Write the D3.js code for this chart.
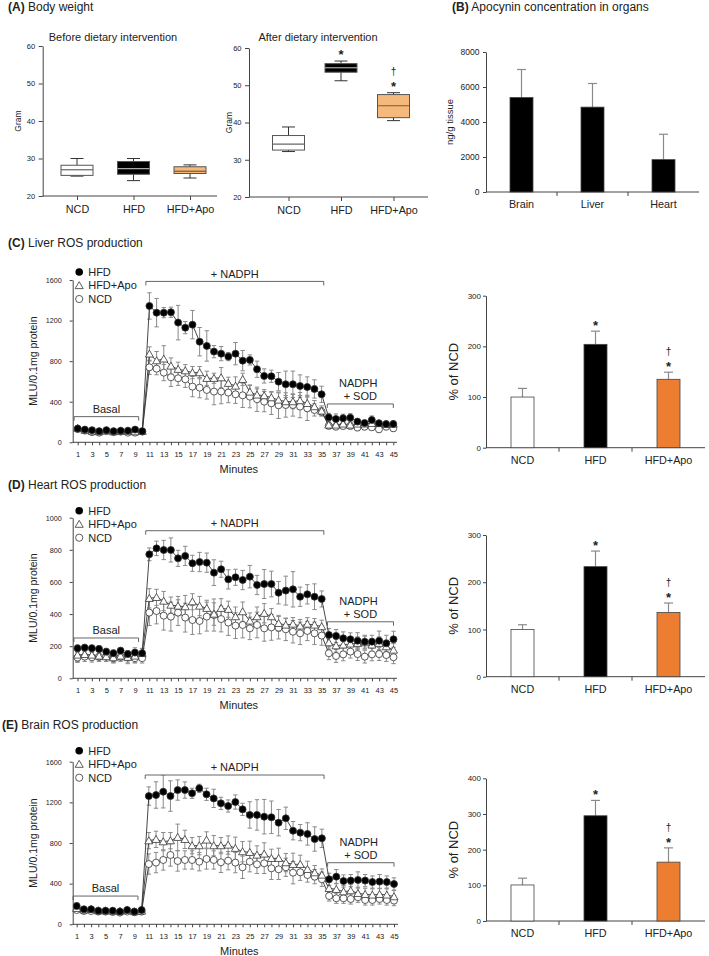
<!DOCTYPE html>
<html><head><meta charset="utf-8">
<script src="https://cdn.jsdelivr.net/npm/d3@7"></script>
<style>body{margin:0;background:#fff;} svg{display:block;}</style>
</head><body><svg id="c" width="709" height="956"></svg>
<script>
// ---------------- DATA ----------------
const groups = ["NCD", "HFD", "HFD+Apo"];
const organs = ["Brain", "Liver", "Heart"];
const minutes = [1,2,3,4,5,6,7,8,9,10,11,12,13,14,15,16,17,18,19,20,21,22,23,24,25,26,27,28,29,30,31,32,33,34,35,36,37,38,39,40,41,42,43,44,45];
const minuteLabels = [1,3,5,7,9,11,13,15,17,19,21,23,25,27,29,31,33,35,37,39,41,43,45];
const weightTicks = [20, 30, 40, 50, 60];

// Body weight box plots (min, q1, median, q3, max)
const beforeMin = [25.3, 24.1, 24.8];
const beforeQ1  = [25.5, 25.8, 26.0];
const beforeMed = [27.0, 27.3, 26.6];
const beforeQ3  = [28.2, 29.2, 27.8];
const beforeMax = [30.0, 30.0, 28.3];
const afterMin = [32.2, 51.2, 40.5];
const afterQ1  = [32.6, 53.5, 41.3];
const afterMed = [34.2, 54.7, 44.5];
const afterQ3  = [36.5, 55.8, 47.5];
const afterMax = [38.8, 56.5, 48.0];
const afterSig = ["", "*", "†*"];

// Apocynin concentration
const apoConc = [5400, 4850, 1850];
const apoConcErr = [1600, 1350, 1450];
const apoTicks = [0, 2000, 4000, 6000, 8000];

// Liver ROS
const liverHFD = [135,125,120,110,120,110,115,115,125,110, 1344,1278,1278,1282,1180,1130,1160,992,950,894,874,845,874,805,812,720,654,651,598,572,572,555,545,526,473, 246,230,237,243,204,190,220,187,180,180];
const liverHFDErr = [25,20,20,20,20,20,20,20,25,20, 130,140,50,50,170,60,140,140,150,60,70,40,110,100,50,80,70,60,90,130,130,110,100,90,80, 40,50,40,40,20,20,40,20,20,20];
const liverApo = [140,120,110,105,115,105,110,110,105,110, 871,805,822,752,720,706,687,687,631,631,637,582,555,621,496,467,460,440,417,401,401,411,384,352,309, 171,171,181,171,181,181,187,187,177,181];
const liverApoErr = [20,20,20,20,20,20,20,20,20,20, 70,90,130,80,70,60,60,60,70,50,100,60,90,60,70,60,60,60,70,60,70,80,80,60,50, 40,30,30,30,30,30,30,30,30,30];
const liverNCD = [130,115,100,95,110,100,105,95,95,105, 739,726,687,641,631,621,549,539,516,500,500,490,473,463,450,424,401,384,365,368,368,352,335,319,302, 164,154,161,161,145,154,148,128,154,138];
const liverNCDErr = [20,20,20,20,20,20,20,20,20,20, 70,60,80,90,70,80,100,100,90,130,120,100,90,120,110,120,100,110,130,120,110,110,120,60,40, 30,30,30,30,30,30,30,30,30,30];
const liverPct = [100, 204, 135];
const liverPctErr = [17, 26, 14];

// Heart ROS
const heartHFD = [187,191,187,183,166,156,172,151,160,156, 772,809,799,799,747,762,716,724,720,658,679,616,629,612,633,581,587,587,533,546,554,508,523,508,494, 270,264,249,243,234,228,228,234,218,243];
const heartHFDErr = [20,20,20,20,20,20,20,20,30,30, 40,45,60,75,50,60,50,60,60,80,50,60,50,60,70,60,90,80,70,90,110,60,60,80,50, 40,40,40,40,50,40,40,60,50,50];
const heartApo = [145,149,145,139,135,129,139,131,139,156, 498,504,481,456,450,446,477,450,436,400,436,430,384,415,357,384,405,384,342,332,338,326,338,332,322, 222,203,208,214,218,222,208,218,197,176];
const heartApoErr = [40,30,30,30,30,30,30,40,40,30, 60,50,60,50,60,70,50,60,50,70,60,50,60,60,50,60,60,50,50,40,40,40,40,40,40, 40,40,40,40,40,40,40,40,40,40];
const heartNCD = [129,135,131,135,135,125,135,131,125,125, 409,419,390,384,409,378,363,357,384,394,369,347,328,332,311,332,311,317,315,305,290,280,295,280,266, 156,139,149,166,151,135,149,151,145,131];
const heartNCDErr = [30,30,30,30,30,30,30,30,30,30, 80,80,90,90,80,90,90,80,90,100,80,80,80,80,70,80,80,80,70,70,70,70,60,70,60, 40,40,40,40,40,40,40,40,40,40];
const heartPct = [100, 233, 136];
const heartPctErr = [10, 33, 20];

// Brain ROS
const brainHFD = [180,148,148,134,134,134,125,141,125,141, 1262,1272,1305,1262,1321,1321,1289,1338,1279,1239,1190,1164,1203,1131,1076,1076,1059,1053,1000,1043,921,902,889,839,846, 443,469,426,430,436,430,416,420,416,397];
const brainHFDErr = [30,20,20,20,20,20,20,20,20,20, 90,130,160,150,100,80,50,40,60,90,60,60,70,60,130,150,170,160,130,110,90,80,110,120,90, 60,70,60,60,80,60,60,70,60,60];
const brainApo = [157,141,148,134,134,131,131,141,125,131, 823,836,813,823,856,836,774,774,830,774,774,780,748,715,708,682,692,649,649,607,590,590,541,508,485, 354,344,321,331,305,295,289,295,289,272];
const brainApoErr = [20,20,20,20,20,20,20,20,20,20, 80,80,90,80,130,90,80,90,80,100,80,90,110,100,110,90,110,90,100,90,110,90,80,70,60, 60,60,60,60,60,60,60,60,60,60];
const brainNCD = [141,131,131,125,125,121,115,125,118,125, 593,607,633,682,623,633,633,616,643,633,610,626,607,561,616,590,600,551,541,561,508,512,485,469,443, 279,256,256,249,266,239,239,249,239,233];
const brainNCDErr = [20,20,20,20,20,20,20,20,20,20, 100,100,100,110,100,90,90,90,100,90,100,90,100,110,100,90,100,110,100,90,110,80,70,70,70, 50,50,50,50,50,50,50,50,50,50];
const brainPct = [101, 295, 165];
const brainPctErr = [19, 43, 40];
const pctSig = ["", "*", "†*"];

// ---------------- DRAWING ----------------
const F = '"Liberation Sans", Arial, Helvetica, sans-serif';
const INK = "#222", AX = "#444", ERR = "#8a8a8a";
const ORANGE = "#ed7d31", LIGHT_ORANGE = "#f5b97b";
const svg = d3.select("#c").style("font-family", F);
const fmt = d3.format("d");

function txt(x, y, s, fs, anchor, bold) {
  return svg.append("text").attr("x", x).attr("y", y).attr("dy", "0.35em")
    .attr("font-size", fs).attr("text-anchor", anchor || "start")
    .attr("font-weight", bold ? "bold" : null).attr("fill", INK).text(s);
}
function vtxt(x, y, s, fs) {
  return svg.append("text").attr("transform", `translate(${x},${y}) rotate(-90)`)
    .attr("dy", "0.35em").attr("font-size", fs).attr("text-anchor", "middle").attr("fill", INK).text(s);
}
function panelTitle(x, y, tag, s) {
  const t = svg.append("text").attr("x", x).attr("y", y).attr("dy", "0.35em").attr("font-size", 12).attr("fill", INK);
  t.append("tspan").attr("font-weight", "bold").text(tag);
  t.append("tspan").text("  " + s);
}
function styleAxis(g, fs) {
  g.selectAll("path.domain").attr("stroke", AX);
  g.selectAll(".tick line").attr("stroke", AX);
  g.selectAll(".tick text").attr("fill", INK).attr("font-size", fs).attr("font-family", F);
}
// significance marks stacked upward from a reference y (top of whisker / error bar)
function sig(x, yRef, s) {
  const chars = s.split("").reverse();
  chars.forEach((c, i) => {
    const yc = yRef - 8.5 - i * 11.5;
    if (c === "*") svg.append("text").attr("x", x).attr("y", yc + 7.4).attr("font-size", 13).attr("text-anchor", "middle").attr("font-weight", "bold").attr("fill", INK).text("*");
    else svg.append("text").attr("x", x).attr("y", yc + 3.2).attr("font-size", 10).attr("text-anchor", "middle").attr("fill", INK).text(c);
  });
}

// ----- Box plots -----
function boxPanel(o) {
  const y = d3.scaleLinear().domain([20, 60]).range([o.y0, o.y1]);
  const x = d3.scalePoint().domain(groups).range([o.c0, o.c2]);
  const ga = svg.append("g").attr("transform", `translate(${o.ax},0)`)
    .call(d3.axisLeft(y).tickValues(weightTicks).tickSize(4).tickSizeOuter(0).tickPadding(3.5));
  styleAxis(ga, 7.5);
  const gx = svg.append("g").attr("transform", `translate(0,${o.y0})`)
    .call(d3.axisBottom(x).tickSize(4).tickSizeOuter(0).tickPadding(5.5));
  gx.select(".domain").remove();
  styleAxis(gx, 10.8);
  svg.append("line").attr("x1", o.ax).attr("x2", o.axEnd).attr("y1", o.y0).attr("y2", o.y0).attr("stroke", AX);
  txt(o.titleX, o.titleY, o.title, 11, "middle");
  vtxt(o.labX, (o.y0 + o.y1) / 2, "Gram", 8.5);
  const fills = ["#fff", "#000", LIGHT_ORANGE];
  const meds = ["#666", "#aaa", "#7a5a3a"];
  const bw = 32, cw = 13;
  groups.forEach((g, i) => {
    const cx = x(g);
    const s = svg.append("g");
    s.append("line").attr("x1", cx).attr("x2", cx).attr("y1", y(o.max[i])).attr("y2", y(o.q3[i])).attr("stroke", "#333");
    s.append("line").attr("x1", cx).attr("x2", cx).attr("y1", y(o.q1[i])).attr("y2", y(o.min[i])).attr("stroke", "#333");
    s.append("line").attr("x1", cx - cw / 2).attr("x2", cx + cw / 2).attr("y1", y(o.max[i])).attr("y2", y(o.max[i])).attr("stroke", "#333");
    s.append("line").attr("x1", cx - cw / 2).attr("x2", cx + cw / 2).attr("y1", y(o.min[i])).attr("y2", y(o.min[i])).attr("stroke", "#333");
    s.append("rect").attr("x", cx - bw / 2).attr("width", bw).attr("y", y(o.q3[i])).attr("height", y(o.q1[i]) - y(o.q3[i]))
      .attr("fill", fills[i]).attr("stroke", "#555").attr("stroke-width", 1);
    s.append("line").attr("x1", cx - bw / 2).attr("x2", cx + bw / 2).attr("y1", y(o.med[i])).attr("y2", y(o.med[i])).attr("stroke", meds[i]).attr("stroke-width", 1.2);
    if (o.sig && o.sig[i]) sig(cx, y(o.max[i]) - 1, o.sig[i]);
  });
}

panelTitle(8, 7, "(A)", "Body weight");
boxPanel({ y0: 196, y1: 46, ax: 42.7, axEnd: 217, c0: 77, c2: 190, titleX: 113, titleY: 37, labX: 18,
  title: "Before dietary intervention",
  min: beforeMin, q1: beforeQ1, med: beforeMed, q3: beforeQ3, max: beforeMax });
boxPanel({ y0: 197, y1: 48, ax: 249, axEnd: 428, c0: 288.5, c2: 393.5, titleX: 318, titleY: 37, labX: 229,
  title: "After dietary intervention",
  min: afterMin, q1: afterQ1, med: afterMed, q3: afterQ3, max: afterMax, sig: afterSig });

// ----- Bar charts -----
function barPanel(o) {
  const x = d3.scaleBand().domain(o.cats).range([o.ax, o.axEnd]);
  const y = d3.scaleLinear().domain([0, o.ymax]).range([o.y0, o.y1]);
  const ga = svg.append("g").attr("transform", `translate(${o.ax},0)`)
    .call(d3.axisLeft(y).tickValues(o.ticks).tickFormat(fmt).tickSize(3).tickSizeOuter(0).tickPadding(o.tickPad));
  styleAxis(ga, o.tickFs);
  svg.append("line").attr("x1", o.ax).attr("x2", o.axEnd).attr("y1", o.y0).attr("y2", o.y0).attr("stroke", AX);
  o.cats.slice(1).forEach(c => {
    svg.append("line").attr("x1", x(c)).attr("x2", x(c)).attr("y1", o.y0).attr("y2", o.y0 + 4).attr("stroke", AX);
  });
  o.cats.forEach(c => txt(x(c) + x.bandwidth() / 2, o.y0 + 12.5, c, 10.8, "middle"));
  vtxt(o.labX, (o.y0 + o.y1) / 2, o.ylab, o.ylabFs);
  const bw = o.bw;
  o.cats.forEach((c, i) => {
    const cx = x(c) + x.bandwidth() / 2;
    const top = y(o.vals[i]), etop = y(o.vals[i] + o.errs[i]);
    svg.append("line").attr("x1", cx).attr("x2", cx).attr("y1", top).attr("y2", etop).attr("stroke", ERR).attr("stroke-width", 1.2);
    svg.append("line").attr("x1", cx - 4.5).attr("x2", cx + 4.5).attr("y1", etop).attr("y2", etop).attr("stroke", ERR).attr("stroke-width", 1.2);
    svg.append("rect").attr("x", cx - bw / 2).attr("width", bw).attr("y", top).attr("height", o.y0 - top)
      .attr("fill", o.fills[i]).attr("stroke", "#444").attr("stroke-width", 0.8);
    if (o.sig && o.sig[i]) sig(cx, etop, o.sig[i]);
  });
}

panelTitle(452, 7, "(B)", "Apocynin concentration in organs");
barPanel({ cats: organs, vals: apoConc, errs: apoConcErr, ymax: 8000, ticks: apoTicks, tickFs: 8.5, tickPad: 3.5,
  ax: 486, axEnd: 699, y0: 192, y1: 52, bw: 23, labX: 450, ylab: "ng/g tissue", ylabFs: 9.5,
  fills: ["#000", "#000", "#000"] });

const pctFills = ["#fff", "#000", ORANGE];
barPanel({ cats: groups, vals: liverPct, errs: liverPctErr, ymax: 300, ticks: [0, 100, 200, 300], tickFs: 8, tickPad: 2,
  ax: 486, axEnd: 705, y0: 447.7, y1: 295.7, bw: 23, labX: 453, ylab: "% of NCD", ylabFs: 13,
  fills: pctFills, sig: pctSig });
barPanel({ cats: groups, vals: heartPct, errs: heartPctErr, ymax: 300, ticks: [0, 100, 200, 300], tickFs: 8, tickPad: 2,
  ax: 486, axEnd: 705, y0: 676.7, y1: 535, bw: 23, labX: 453, ylab: "% of NCD", ylabFs: 13,
  fills: pctFills, sig: pctSig });
barPanel({ cats: groups, vals: brainPct, errs: brainPctErr, ymax: 400, ticks: [0, 100, 200, 300, 400], tickFs: 8, tickPad: 2,
  ax: 486, axEnd: 705, y0: 921, y1: 778.3, bw: 23, labX: 453, ylab: "% of NCD", ylabFs: 13,
  fills: pctFills, sig: pctSig });

// ----- Line charts -----
function linePanel(o) {
  const x = d3.scaleLinear().domain([1, 45]).range([o.x1, o.x45]);
  const y = d3.scaleLinear().domain([0, o.ymax]).range([o.y0, o.yTop]);
  const ga = svg.append("g").attr("transform", `translate(${o.ax},0)`)
    .call(d3.axisLeft(y).tickValues(o.ticks).tickFormat(fmt).tickSize(3).tickSizeOuter(0).tickPadding(8));
  styleAxis(ga, 7.2);
  const gx = svg.append("g").attr("transform", `translate(0,${o.y0})`)
    .call(d3.axisBottom(x).tickValues(minutes).tickFormat(d => minuteLabels.includes(d) ? d : "").tickSize(3).tickPadding(6));
  gx.select(".domain").remove();
  styleAxis(gx, 7.5);
  svg.append("line").attr("x1", o.ax).attr("x2", o.axEnd).attr("y1", o.y0).attr("y2", o.y0).attr("stroke", AX);
  txt((o.ax + o.axEnd) / 2 + 4, o.y0 + 27, "Minutes", 11, "middle");
  vtxt(33, (o.y0 + o.yTop) / 2, "MLU/0.1mg protein", 10.5);

  function bracket(m0, m1, v) {
    const yy = y(v);
    svg.append("path").attr("d", `M${x(m0)},${yy + 4}V${yy}H${x(m1)}V${yy + 4}`)
      .attr("fill", "none").attr("stroke", "#555").attr("stroke-width", 0.9);
    return yy;
  }
  const yb = bracket(0.5, 9.5, o.bBasal);
  txt((x(0.5) + x(9.5)) / 2, yb - 7.5, "Basal", 11, "middle");
  const yn = bracket(10.5, 35.3, o.bNadph);
  txt((x(10.5) + x(35.3)) / 2, yn - 7.5, "+ NADPH", 11, "middle");
  const ys = bracket(35.8, 45, o.bSod);
  txt((x(35.8) + x(45)) / 2 - 2, ys - 21, "NADPH", 11, "middle");
  txt((x(35.8) + x(45)) / 2, ys - 7.5, "+ SOD", 11, "middle");

  const series = [
    { v: o.ncd, e: o.ncdE, type: "circle", fill: "#fff" },
    { v: o.apo, e: o.apoE, type: "tri", fill: "#fff" },
    { v: o.hfd, e: o.hfdE, type: "circle", fill: "#000" }
  ];
  series.forEach(s => {
    const g = svg.append("g").attr("stroke", ERR).attr("stroke-width", 1);
    minutes.forEach((m, i) => {
      const cx = x(m), a = y(s.v[i] + s.e[i]), b = y(Math.max(0, s.v[i] - s.e[i]));
      g.append("line").attr("x1", cx).attr("x2", cx).attr("y1", a).attr("y2", b);
      g.append("line").attr("x1", cx - 2.2).attr("x2", cx + 2.2).attr("y1", a).attr("y2", a);
      g.append("line").attr("x1", cx - 2.2).attr("x2", cx + 2.2).attr("y1", b).attr("y2", b);
    });
  });
  const line = d3.line().x((d, i) => x(minutes[i])).y(d => y(d));
  series.forEach(s => {
    svg.append("path").attr("d", line(s.v)).attr("fill", "none").attr("stroke", "#333").attr("stroke-width", 0.9);
  });
  const tri = d3.symbol().type(d3.symbolTriangle).size(28);
  series.forEach(s => {
    const g = svg.append("g");
    minutes.forEach((m, i) => {
      if (s.type === "circle") g.append("circle").attr("cx", x(m)).attr("cy", y(s.v[i])).attr("r", 3.5)
        .attr("fill", s.fill).attr("stroke", "#333").attr("stroke-width", 0.8);
      else g.append("path").attr("d", tri).attr("transform", `translate(${x(m)},${y(s.v[i]) + 0.8})`)
        .attr("fill", s.fill).attr("stroke", "#333").attr("stroke-width", 0.8);
    });
  });
  // legend
  const lx = o.ax + 6.5;
  svg.append("circle").attr("cx", lx).attr("cy", o.legY).attr("r", 3.8).attr("fill", "#000");
  txt(lx + 9, o.legY, "HFD", 11);
  svg.append("path").attr("d", tri).attr("transform", `translate(${lx},${o.legY + 13.5 + 0.8})`).attr("fill", "#fff").attr("stroke", "#333").attr("stroke-width", 0.8);
  txt(lx + 9, o.legY + 13.5, "HFD+Apo", 11);
  svg.append("circle").attr("cx", lx).attr("cy", o.legY + 27).attr("r", 3.6).attr("fill", "#fff").attr("stroke", "#333").attr("stroke-width", 0.8);
  txt(lx + 9, o.legY + 27, "NCD", 11);
}

panelTitle(8, 243, "(C)", "Liver ROS production");
linePanel({ ax: 72.7, axEnd: 397, x1: 77.7, x45: 393.3, y0: 442.3, yTop: 280, ymax: 1600, ticks: [0, 400, 800, 1200, 1600],
  legY: 272, bBasal: 253, bNadph: 1586, bSod: 378,
  hfd: liverHFD, hfdE: liverHFDErr, apo: liverApo, apoE: liverApoErr, ncd: liverNCD, ncdE: liverNCDErr });

panelTitle(8, 485, "(D)", "Heart ROS production");
linePanel({ ax: 72.7, axEnd: 397, x1: 77.5, x45: 393.5, y0: 678.3, yTop: 517.7, ymax: 1000, ticks: [0, 200, 400, 600, 800, 1000],
  legY: 510.7, bBasal: 251, bNadph: 919, bSod: 352,
  hfd: heartHFD, hfdE: heartHFDErr, apo: heartApo, apoE: heartApoErr, ncd: heartNCD, ncdE: heartNCDErr });

panelTitle(2, 725, "(E)", "Brain ROS production");
linePanel({ ax: 72.7, axEnd: 398, x1: 76.7, x45: 394, y0: 924.3, yTop: 761.7, ymax: 1600, ticks: [0, 400, 800, 1200, 1600],
  legY: 750.7, bBasal: 278, bNadph: 1469, bSod: 606,
  hfd: brainHFD, hfdE: brainHFDErr, apo: brainApo, apoE: brainApoErr, ncd: brainNCD, ncdE: brainNCDErr });
</script></body></html>
